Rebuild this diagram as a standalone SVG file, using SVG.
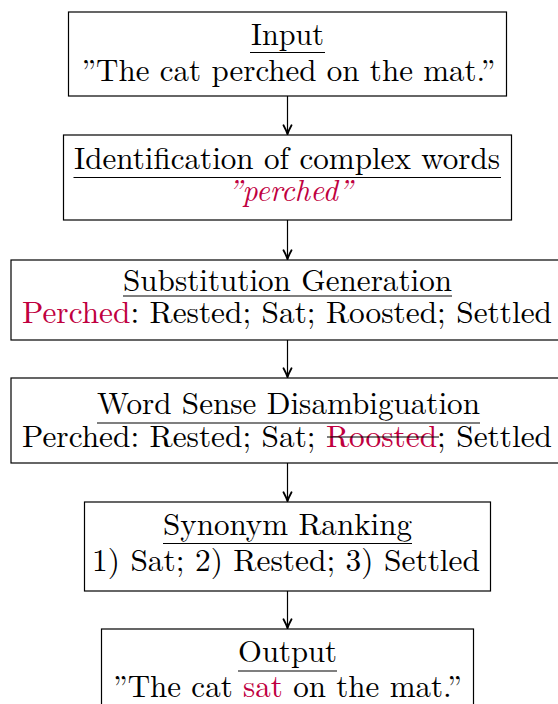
<svg xmlns="http://www.w3.org/2000/svg" width="558" height="704" viewBox="0 0 558 704">
<defs>
<style>
.box{fill:#fff;stroke:#000;stroke-width:1.2}
.t{font-size:31px;fill:#000;text-anchor:middle}
.it{font-style:italic}
.red{fill:#bf0040}
.ul{stroke:#000;stroke-width:1.2}
.conn{stroke:#000;stroke-width:1.2;fill:none}
</style>
<marker id="arr" viewBox="-11 -6 12 12" refX="0" refY="0" markerWidth="12" markerHeight="12" markerUnits="userSpaceOnUse" orient="auto">
<path d="M-9,-4 Q-3.5,-1 0,0 Q-3.5,1 -9,4" fill="none" stroke="#000" stroke-width="1.8" stroke-linecap="round" stroke-linejoin="round"/>
</marker>
</defs>
<rect width="558" height="704" fill="#fff"/>
<g id="connectors">
<line class="conn" x1="287.5" y1="96" x2="287.5" y2="134.3" marker-end="url(#arr)"/>
<line class="conn" x1="287.5" y1="220" x2="287.5" y2="259.3" marker-end="url(#arr)"/>
<line class="conn" x1="287.5" y1="340" x2="287.5" y2="377.3" marker-end="url(#arr)"/>
<line class="conn" x1="287.5" y1="463" x2="287.5" y2="501.3" marker-end="url(#arr)"/>
<line class="conn" x1="287.5" y1="591" x2="287.5" y2="628.3" marker-end="url(#arr)"/>
</g>
<g id="input" font-family="Latin Modern Roman, Liberation Serif, serif">
<rect class="box" x="68.5" y="12" width="438" height="84"/>
<text class="t" font-family="Latin Modern Roman, Liberation Serif, serif" x="287.5" y="45" textLength="73" lengthAdjust="spacingAndGlyphs">Input</text>
<line class="ul" x1="250" y1="52.5" x2="325" y2="52.5"/>
<text class="t" font-family="Latin Modern Roman, Liberation Serif, serif" x="288.5" y="81" textLength="414" lengthAdjust="spacingAndGlyphs">”The cat perched on the mat.”</text>
</g>
<g id="identification" font-family="Latin Modern Roman, Liberation Serif, serif">
<rect class="box" x="63.5" y="135" width="448" height="85"/>
<text class="t" font-family="Latin Modern Roman, Liberation Serif, serif" x="287" y="169" textLength="426" lengthAdjust="spacingAndGlyphs">Identification of complex words</text>
<line class="ul" x1="73.5" y1="177.5" x2="501" y2="177.5"/>
<text class="t it red" font-family="Latin Modern Roman, Liberation Serif, serif" x="290" y="201" textLength="125" lengthAdjust="spacingAndGlyphs">”perched”</text>
</g>
<g id="generation" font-family="Latin Modern Roman, Liberation Serif, serif">
<rect class="box" x="11" y="260" width="552" height="80"/>
<text class="t" font-family="Latin Modern Roman, Liberation Serif, serif" x="287.5" y="291" textLength="329" lengthAdjust="spacingAndGlyphs">Substitution Generation</text>
<line class="ul" x1="123" y1="296" x2="452" y2="296"/>
<text class="t" font-family="Latin Modern Roman, Liberation Serif, serif" x="287" y="323" textLength="530" lengthAdjust="spacingAndGlyphs"><tspan class="red">Perched</tspan>: Rested; Sat; Roosted; Settled</text>
</g>
<g id="disambiguation" font-family="Latin Modern Roman, Liberation Serif, serif">
<rect class="box" x="11" y="378" width="552" height="85"/>
<text class="t" font-family="Latin Modern Roman, Liberation Serif, serif" x="288.5" y="414" textLength="383" lengthAdjust="spacingAndGlyphs">Word Sense Disambiguation</text>
<line class="ul" x1="97" y1="423" x2="480" y2="423"/>
<text class="t" font-family="Latin Modern Roman, Liberation Serif, serif" x="287" y="447" textLength="530" lengthAdjust="spacingAndGlyphs">Perched: Rested; Sat; <tspan class="red">Roosted</tspan>; Settled</text>
<line class="ul" x1="327" y1="437" x2="439" y2="437"/>
</g>
<g id="ranking" font-family="Latin Modern Roman, Liberation Serif, serif">
<rect class="box" x="84.5" y="502" width="406" height="89"/>
<text class="t" font-family="Latin Modern Roman, Liberation Serif, serif" x="287.5" y="535" textLength="249" lengthAdjust="spacingAndGlyphs">Synonym Ranking</text>
<line class="ul" x1="163" y1="543.5" x2="412" y2="543.5"/>
<text class="t" font-family="Latin Modern Roman, Liberation Serif, serif" x="286" y="571" textLength="388" lengthAdjust="spacingAndGlyphs">1) Sat; 2) Rested; 3) Settled</text>
</g>
<g id="output" font-family="Latin Modern Roman, Liberation Serif, serif">
<rect class="box" x="101.5" y="629" width="372" height="90"/>
<text class="t" font-family="Latin Modern Roman, Liberation Serif, serif" x="287.5" y="662" textLength="99" lengthAdjust="spacingAndGlyphs">Output</text>
<line class="ul" x1="238" y1="671" x2="337" y2="671"/>
<text class="t" font-family="Latin Modern Roman, Liberation Serif, serif" x="287.5" y="697" textLength="349" lengthAdjust="spacingAndGlyphs">”The cat <tspan class="red">sat</tspan> on the mat.”</text>
</g>
</svg>
